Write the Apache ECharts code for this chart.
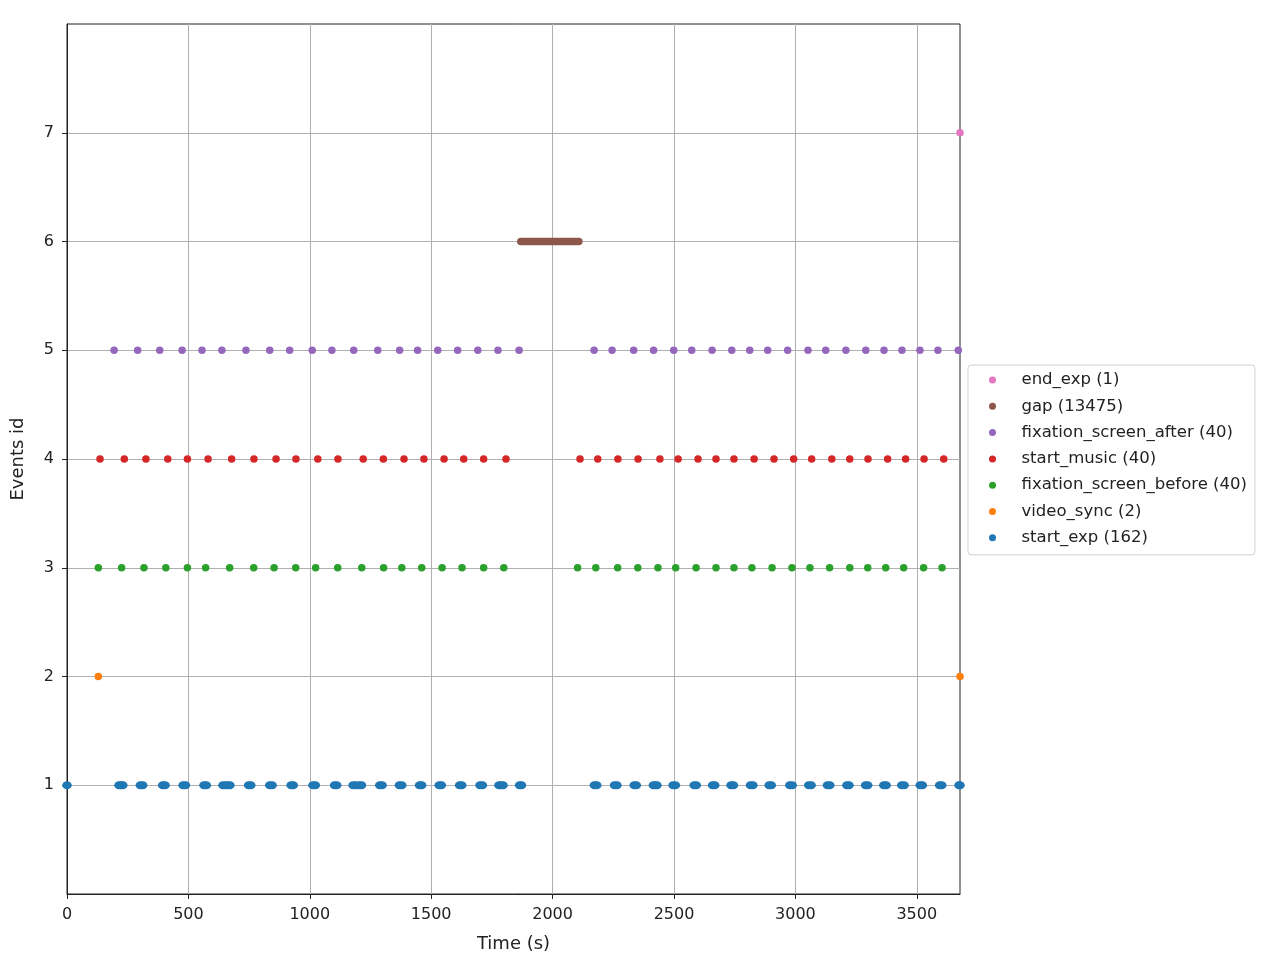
<!DOCTYPE html>
<html>
<head>
<meta charset="utf-8">
<script src="https://cdn.jsdelivr.net/npm/echarts@6/dist/echarts.min.js"></script>
<style>
html,body{margin:0;padding:0;background:#fff;}
#chart{width:1282px;height:970px;}
</style>
</head>
<body>
<div id="chart"></div>
<script>
// ---- data ----
const xTicks = [0, 500, 1000, 1500, 2000, 2500, 3000, 3500];
const yTicks = [1, 2, 3, 4, 5, 6, 7];
const xMax = 3678;

const startExpTimes = [0, 214, 222, 230, 302, 312, 394, 404, 478, 488, 564, 574, 642, 652, 662, 671,
  748, 757, 835, 845, 923, 932, 1013, 1023, 1102, 1111, 1178, 1188, 1203, 1213, 1288, 1298,
  1369, 1379, 1452, 1461, 1533, 1542, 1617, 1626, 1701, 1711, 1779, 1787, 1796, 1864, 1872,
  2172, 2182, 2255, 2265, 2336, 2345, 2415, 2423, 2430, 2496, 2506, 2583, 2592, 2659, 2668,
  2735, 2745, 2815, 2825, 2892, 2901, 2977, 2987, 3055, 3065, 3132, 3142, 3212, 3221,
  3289, 3298, 3364, 3374, 3438, 3448, 3514, 3523, 3594, 3603, 3674, 3678];
const videoSyncTimes = [129, 3678];
const fixBeforeTimes = [129, 225, 317, 407, 496, 571, 670, 769, 853, 942, 1024, 1115, 1214, 1304, 1379,
  1461, 1545, 1627, 1716, 1799, 2103, 2178, 2268, 2351, 2434, 2507, 2591, 2673, 2747, 2821,
  2904, 2986, 3060, 3141, 3224, 3298, 3372, 3446, 3528, 3604];
const startMusicTimes = [136, 236, 325, 415, 496, 581, 678, 770, 861, 943, 1033, 1116, 1220, 1303, 1388,
  1470, 1553, 1634, 1716, 1808, 2113, 2186, 2269, 2352, 2442, 2517, 2599, 2673, 2747, 2830,
  2912, 2993, 3067, 3150, 3224, 3299, 3380, 3454, 3530, 3611];
const fixAfterTimes = [194, 291, 382, 474, 556, 638, 737, 835, 917, 1010, 1091, 1181, 1280, 1370, 1444,
  1527, 1609, 1692, 1775, 1862, 2171, 2245, 2334, 2416, 2499, 2573, 2657, 2738, 2812, 2886,
  2968, 3052, 3125, 3208, 3290, 3365, 3439, 3513, 3587, 3671];
const gapSpan = [1869, 2108];
const endExpTimes = [3678];

const names = ['end_exp (1)', 'gap (13475)', 'fixation_screen_after (40)', 'start_music (40)',
  'fixation_screen_before (40)', 'video_sync (2)', 'start_exp (162)'];
const colors = ['#e377c2', '#8c564b', '#9467bd', '#d62728', '#2ca02c', '#ff7f0e', '#1f77b4'];

// ---- chart ----
const chart = echarts.init(document.getElementById('chart'), null, {renderer: 'canvas'});
const FONT = 'DejaVu Sans';

function scatter(name, color, times, yval, size) {
  return {
    name: name, type: 'scatter', clip: false,
    symbol: 'circle', symbolSize: size,
    itemStyle: {color: color, opacity: 1},
    data: times.map(t => [t, yval]),
    z: 3
  };
}

const series = [
  scatter(names[6], colors[6], startExpTimes, 1, [9.5, 8]),
  scatter(names[5], colors[5], videoSyncTimes, 2, 7.5),
  scatter(names[4], colors[4], fixBeforeTimes, 3, 7.5),
  scatter(names[3], colors[3], startMusicTimes, 4, 7.5),
  scatter(names[2], colors[2], fixAfterTimes, 5, 7.5),
  {
    name: names[1], type: 'line', showSymbol: false, clip: false,
    lineStyle: {color: colors[1], width: 7.5, cap: 'round'},
    itemStyle: {color: colors[1]},
    data: gapSpan.map(t => [t, 6]),
    z: 3
  },
  scatter(names[0], colors[0], endExpTimes, 7, 7.5)
];

chart.setOption({
  animation: false,
  backgroundColor: '#fff',
  grid: {left: 67, right: 322, top: 24, bottom: 76, show: true,
    borderColor: '#222', borderWidth: 1, backgroundColor: 'transparent'},
  xAxis: {
    type: 'value', min: 0, max: xMax,
    name: 'Time (s)', nameLocation: 'middle', nameGap: 41,
    nameTextStyle: {fontFamily: FONT, fontSize: 18, color: '#222'},
    axisLine: {show: true, onZero: false, lineStyle: {color: '#222', width: 1}},
    axisTick: {show: true, length: 5, lineStyle: {color: '#222'}, customValues: xTicks},
    axisLabel: {fontFamily: FONT, fontSize: 16, color: '#222', margin: 13, customValues: xTicks,
      formatter: v => String(v)},
    splitLine: {show: true, lineStyle: {color: '#b0b0b0', width: 1}},
    interval: 500
  },
  yAxis: {
    type: 'value', min: 0, max: 8, interval: 1,
    name: 'Events id', nameLocation: 'middle', nameGap: 40, nameRotate: 90,
    nameTextStyle: {fontFamily: FONT, fontSize: 18, color: '#222'},
    axisLine: {show: true, onZero: false, lineStyle: {color: '#222', width: 1}},
    axisTick: {show: true, length: 5, lineStyle: {color: '#222'}, customValues: yTicks},
    axisLabel: {fontFamily: FONT, fontSize: 16, color: '#222', margin: 13, customValues: yTicks},
    splitLine: {show: true, lineStyle: {color: '#b0b0b0', width: 1}}
  },
  legend: {
    orient: 'vertical', left: 968, top: 365,
    padding: [6, 8, 8, 21],
    itemWidth: 30, itemHeight: 7, itemGap: 8.3,
    icon: 'circle',
    borderColor: '#d0d0d0', borderWidth: 1, borderRadius: 3,
    backgroundColor: '#fff',
    textStyle: {fontFamily: FONT, fontSize: 16.5, color: '#222', lineHeight: 18, padding: [0, 0, 0, 9]},
    data: names.map((n, i) => ({name: n, icon: 'circle', itemStyle: {color: colors[i]}}))
  },
  series: series
});
</script>
</body>
</html>
